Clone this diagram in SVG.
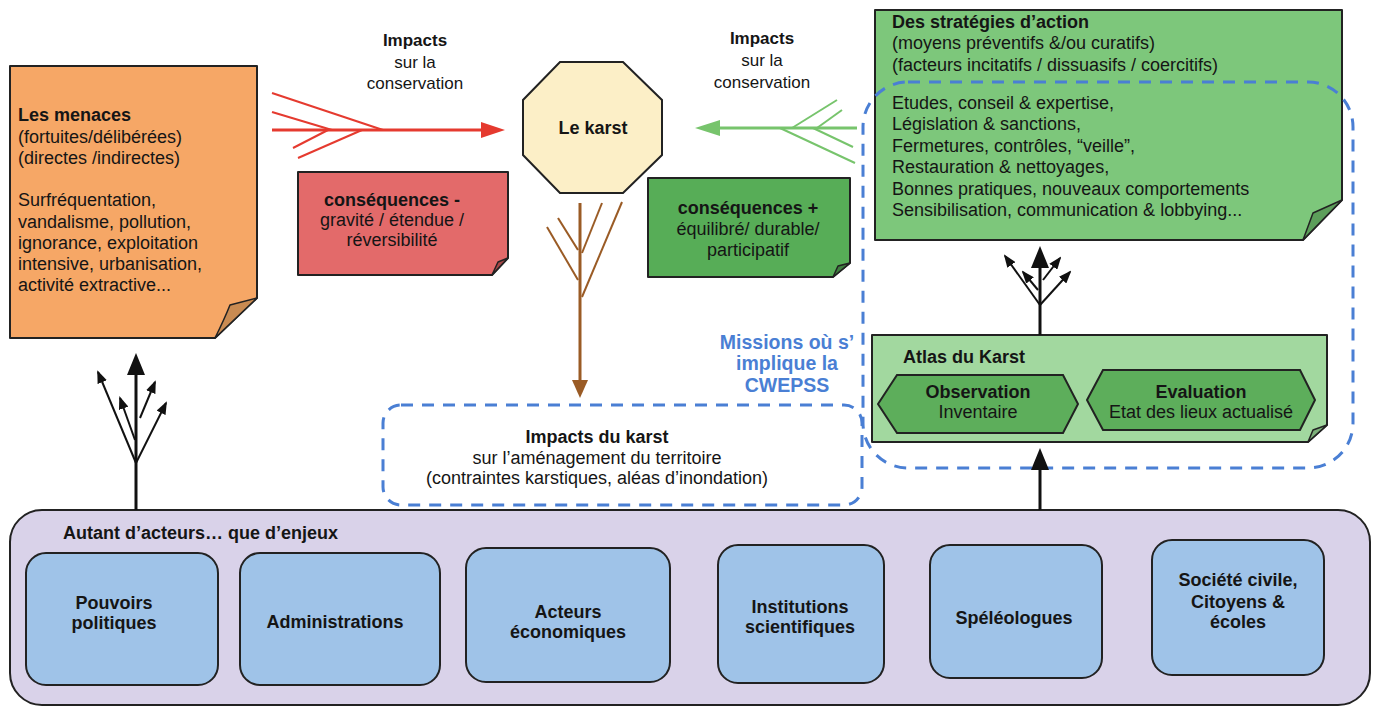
<svg xmlns="http://www.w3.org/2000/svg" width="1380" height="709" viewBox="0 0 1380 709">
<style>
text{font-family:"Liberation Sans",Arial,sans-serif;fill:#151515;font-size:18px}
.b{font-weight:bold}
.c{text-anchor:middle}
.imp{font-size:17px}
.note{stroke:#222;stroke-width:2;stroke-linejoin:round}
.fold{stroke:#222;stroke-width:1.5;stroke-linejoin:round}
.dash{fill:none;stroke:#4A7FD4;stroke-width:3;stroke-dasharray:12 9}
.actor{fill:#9FC3E8;stroke:#222;stroke-width:2}
.blk{stroke:#111;fill:none}
.miss{fill:#4A7FD4;font-weight:bold;font-size:19.5px;text-anchor:middle}
</style>
<defs>
<marker id="mRed" markerUnits="userSpaceOnUse" markerWidth="24" markerHeight="16" viewBox="0 0 24 16" refX="1" refY="8" orient="auto"><path d="M0,0 L24,8 L0,16 z" fill="#E53A2F"/></marker>
<marker id="mGreen" markerUnits="userSpaceOnUse" markerWidth="25" markerHeight="16" viewBox="0 0 25 16" refX="1" refY="8" orient="auto"><path d="M0,0 L25,8 L0,16 z" fill="#77C46C"/></marker>
<marker id="mBrown" markerUnits="userSpaceOnUse" markerWidth="18" markerHeight="16" viewBox="0 0 18 16" refX="1" refY="8" orient="auto"><path d="M0,0 L18,8 L0,16 z" fill="#9A5B25"/></marker>
<marker id="mBlack" markerUnits="userSpaceOnUse" markerWidth="22" markerHeight="18" viewBox="0 0 22 18" refX="1" refY="9" orient="auto"><path d="M0,0 L22,9 L0,18 z" fill="#111"/></marker>
<marker id="mSmall" markerUnits="userSpaceOnUse" markerWidth="13" markerHeight="10" viewBox="0 0 13 10" refX="11" refY="5" orient="auto"><path d="M0,0 L13,5 L0,10 z" fill="#111"/></marker>
</defs>
<rect width="1380" height="709" fill="#ffffff"/>

<g id="actors-container">
<rect x="10" y="510" width="1360" height="195" rx="32" fill="#D9D2E9" stroke="#222" stroke-width="2"/>
<text class="b" x="63" y="539">Autant d’acteurs… que d’enjeux</text>
</g>
<g id="pouvoirs"><rect class="actor" x="26" y="553" width="192" height="132" rx="20"/><text class="b c" x="114" y="609">Pouvoirs</text><text class="b c" x="114" y="629">politiques</text></g>
<g id="administrations"><rect class="actor" x="240" y="553" width="200" height="132" rx="20"/><text class="b c" x="335" y="628">Administrations</text></g>
<g id="acteurs-eco"><rect class="actor" x="466" y="548" width="204" height="134" rx="20"/><text class="b c" x="568" y="618">Acteurs</text><text class="b c" x="568" y="638">économiques</text></g>
<g id="institutions"><rect class="actor" x="718" y="545" width="166" height="138" rx="20"/><text class="b c" x="800" y="613">Institutions</text><text class="b c" x="800" y="633">scientifiques</text></g>
<g id="speleologues"><rect class="actor" x="930" y="545" width="172" height="133" rx="20"/><text class="b c" x="1014" y="624">Spéléologues</text></g>
<g id="societe-civile"><rect class="actor" x="1152" y="540" width="172" height="135" rx="20"/><text class="b c" x="1238" y="586">Société civile,</text><text class="b c" x="1238" y="608">Citoyens &amp;</text><text class="b c" x="1238" y="628">écoles</text></g>

<g id="menaces">
<polygon class="note" points="10,66 257,66 257,298 215,338 10,338" fill="#F6A766"/>
<path class="fold" d="M257,298 L230,305 Q224,320 215,338 Z" fill="#C98B52"/>
<text x="18" y="121" class="b">Les menaces</text>
<text x="18" y="143">(fortuites/délibérées)</text>
<text x="18" y="164">(directes /indirectes)</text>
<text x="18" y="206">Surfréquentation,</text>
<text x="18" y="228">vandalisme, pollution,</text>
<text x="18" y="249">ignorance, exploitation</text>
<text x="18" y="270">intensive, urbanisation,</text>
<text x="18" y="291">activité extractive...</text>
</g>

<g id="consequences-moins">
<polygon class="note" points="298,172 508,172 508,258 492,275 298,275" fill="#E36A6A"/>
<path class="fold" d="M508,258 L498,262 L492,275 Z" fill="#A84848"/>
<text class="b c" x="392" y="206">conséquences -</text>
<text class="c" x="392" y="226">gravité / étendue /</text>
<text class="c" x="392" y="246">réversibilité</text>
</g>

<g id="karst">
<polygon points="560,62 623,62 662,100 662,155 623,193 560,193 523,155 523,100" fill="#FCEFC7" stroke="#222" stroke-width="2"/>
<text class="b c" x="593" y="134" font-size="17">Le karst</text>
</g>

<g id="consequences-plus">
<polygon class="note" points="648,178 850,178 850,263 833,277 648,277" fill="#57AD57"/>
<path class="fold" d="M850,263 L838,266 L833,277 Z" fill="#3F7F3F"/>
<text class="b c" x="748" y="214">conséquences +</text>
<text class="c" x="748" y="235">équilibré/ durable/</text>
<text class="c" x="748" y="256">participatif</text>
</g>

<g id="strategies">
<polygon class="note" points="875,10 1342,10 1342,200 1303,240 875,240" fill="#7DC77B"/>
<path class="fold" d="M1342,200 L1313,213 L1303,240 Z" fill="#5C9E5A"/>
<text class="b" x="892" y="28">Des stratégies d’action</text>
<text x="892" y="49">(moyens préventifs &amp;/ou curatifs)</text>
<text x="892" y="71">(facteurs incitatifs / dissuasifs / coercitifs)</text>
<text x="892" y="109">Etudes, conseil &amp; expertise,</text>
<text x="892" y="130">Législation &amp; sanctions,</text>
<text x="892" y="152">Fermetures, contrôles, “veille”,</text>
<text x="892" y="173">Restauration &amp; nettoyages,</text>
<text x="892" y="195">Bonnes pratiques, nouveaux comportements</text>
<text x="892" y="216">Sensibilisation, communication &amp; lobbying...</text>
</g>

<g id="atlas">
<polygon class="note" points="872,335 1327,335 1327,425 1308,442 872,442" fill="#A2D89F"/>
<path class="fold" d="M1327,425 L1313,430 L1308,442 Z" fill="#7DB07A"/>
<text class="b" x="903" y="363" font-size="17">Atlas du Karst</text>
</g>
<g id="observation">
<polygon points="878,404 897,375 1063,375 1078,404 1063,433 897,433" fill="#5DAE5B" stroke="#222" stroke-width="2"/>
<text class="b c" x="978" y="398">Observation</text>
<text class="c" x="978" y="418">Inventaire</text>
</g>
<g id="evaluation">
<polygon points="1087,400 1103,370 1300,370 1315,400 1300,430 1103,430" fill="#5DAE5B" stroke="#222" stroke-width="2"/>
<text class="b c" x="1201" y="398">Evaluation</text>
<text class="c" x="1201" y="418">Etat des lieux actualisé</text>
</g>

<g id="impacts-karst">
<rect class="dash" x="383" y="405" width="479" height="100" rx="18"/>
<text class="b c" x="597" y="443">Impacts du karst</text>
<text class="c" x="597" y="464">sur l’aménagement du territoire</text>
<text class="c" x="597" y="484">(contraintes karstiques, aléas d’inondation)</text>
</g>

<g id="missions">
<rect class="dash" x="863" y="82" width="490" height="386" rx="45"/>
<text class="miss" x="787" y="349">Missions où s’</text>
<text class="miss" x="787" y="370">implique la</text>
<text class="miss" x="787" y="392">CWEPSS</text>
</g>

<g id="labels">
<text class="b c imp" x="415" y="46">Impacts</text>
<text class="c imp" x="415" y="68">sur la</text>
<text class="c imp" x="415" y="89">conservation</text>
<text class="b c imp" x="762" y="44">Impacts</text>
<text class="c imp" x="762" y="66">sur la</text>
<text class="c imp" x="762" y="88">conservation</text>
</g>

<g id="connectors">
<!-- red -->
<g stroke="#E53A2F" stroke-width="2" fill="none">
<path d="M272,130 H482" stroke-width="3" marker-end="url(#mRed)"/>
<path d="M272,93 L383,130"/>
<path d="M272,112 L332,130"/>
<path d="M293,148 L328,130"/>
<path d="M298,158 L362,130"/>
</g>
<!-- green -->
<g stroke="#77C46C" stroke-width="2" fill="none">
<path d="M857,128 H719" stroke-width="3" marker-end="url(#mGreen)"/>
<path d="M837,100 L792,128"/>
<path d="M842,110 L817,128"/>
<path d="M853,147 L813,128"/>
<path d="M855,163 L780,128"/>
</g>
<!-- brown -->
<g stroke="#9A5B25" stroke-width="2" fill="none">
<path d="M580,203 V381" stroke-width="3" marker-end="url(#mBrown)"/>
<path d="M547,227 L578,280"/>
<path d="M558,218 L578,250"/>
<path d="M602,203 L582,253"/>
<path d="M622,202 L582,297"/>
</g>
<!-- left black -->
<g class="blk" stroke-width="2">
<path d="M136,510 V374" stroke-width="3" marker-end="url(#mBlack)"/>
<path d="M136,463 L98,372" marker-end="url(#mSmall)"/>
<path d="M135,440 L120,398" marker-end="url(#mSmall)"/>
<path d="M140,418 L155,382" marker-end="url(#mSmall)"/>
<path d="M136,463 L166,403" marker-end="url(#mSmall)"/>
</g>
<!-- atlas to strategies -->
<g class="blk" stroke-width="2">
<path d="M1040,335 V267" stroke-width="3" marker-end="url(#mBlack)"/>
<path d="M1040,305 L1005,256" marker-end="url(#mSmall)"/>
<path d="M1038,290 L1023,272" marker-end="url(#mSmall)"/>
<path d="M1043,280 L1060,258" marker-end="url(#mSmall)"/>
<path d="M1040,305 L1070,272" marker-end="url(#mSmall)"/>
</g>
<!-- actors to atlas -->
<path class="blk" d="M1040,510 V469" stroke-width="3" marker-end="url(#mBlack)"/>
</g>
</svg>
